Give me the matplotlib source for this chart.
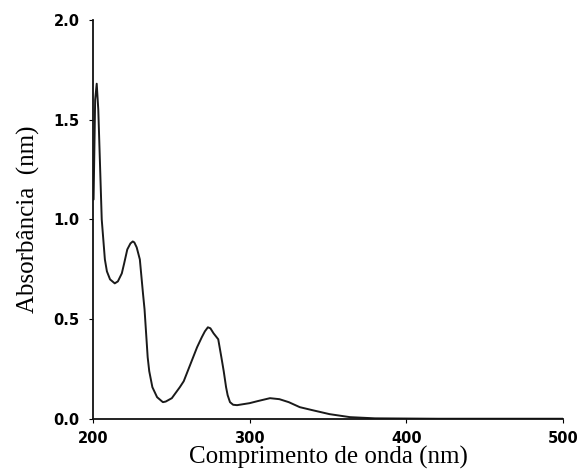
import numpy as np
import matplotlib.pyplot as plt

# UV spectrum
wavelength_nm = [200.5, 201.5, 202.5, 203.5, 204.5, 205.7, 207.7, 209, 211, 214,
                 216, 218.5, 220, 222, 224, 225.5, 226.5, 228, 230, 232,
                 233, 235, 236, 238, 241, 244.7, 246.5, 250.4, 255.5, 258,
                 260, 264, 266.5, 269.5, 271.5, 273.4, 275, 277, 280, 282,
                 283.5, 285, 286, 287.5, 289.5, 292, 300, 305, 313, 319,
                 325, 332, 340, 351, 364, 380, 420, 460, 500]
absorbance = [1.10, 1.60, 1.68, 1.55, 1.30, 1.00, 0.80, 0.74, 0.70, 0.68,
              0.69, 0.73, 0.78, 0.85, 0.88, 0.89, 0.885, 0.86, 0.80, 0.63,
              0.55, 0.31, 0.24, 0.16, 0.11, 0.085, 0.088, 0.105, 0.16, 0.19,
              0.23, 0.31, 0.36, 0.41, 0.44, 0.46, 0.455, 0.43, 0.40, 0.31,
              0.24, 0.16, 0.12, 0.085, 0.072, 0.07, 0.08, 0.09, 0.105, 0.10,
              0.085, 0.06, 0.045, 0.025, 0.01, 0.004, 0.002, 0.002, 0.002]

x_ticks = [200, 300, 400, 500]
y_ticks = [0.0, 0.5, 1.0, 1.5, 2.0]

fig = plt.figure(figsize=(5.8, 4.72), dpi=100)
ax = fig.add_axes([0.160, 0.112, 0.811, 0.846])

ax.plot(wavelength_nm, absorbance, color="#1a1a1a", lw=1.4,
        solid_joinstyle="round", solid_capstyle="round")

ax.set_xlim(200, 500)
ax.set_ylim(0, 2.0)
ax.set_xticks(x_ticks)
ax.set_yticks(y_ticks)
ax.set_yticklabels([f"{v:.1f}" for v in y_ticks])
for side in ("top", "right"):
    ax.spines[side].set_visible(False)
for side in ("left", "bottom"):
    ax.spines[side].set_linewidth(1.3)
    ax.spines[side].set_color("#111111")
ax.tick_params(length=3, width=0.8, labelsize=10.5)
ax.tick_params(axis="x", pad=5.5)
ax.tick_params(axis="y", pad=6.5)
for lab in ax.get_xticklabels() + ax.get_yticklabels():
    lab.set_fontfamily("DejaVu Sans")
    lab.set_fontweight("bold")

ax.set_xlabel("Comprimento de onda (nm)", family="Liberation Serif", fontsize=18, labelpad=0)
ax.set_ylabel("Absorbância  (nm)", family="Liberation Serif", fontsize=18, labelpad=10)

fig.savefig("out.png", dpi=100)
